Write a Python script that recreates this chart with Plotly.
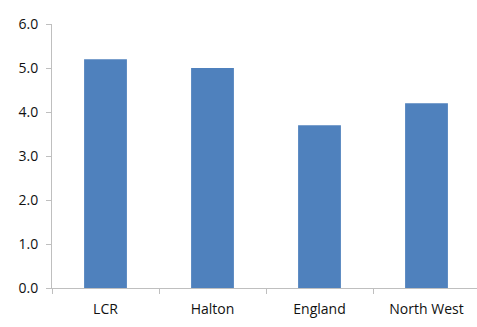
import plotly.graph_objects as go

categories = ["LCR", "Halton", "England", "North West"]
values = [5.2, 5.0, 3.7, 4.2]
y_ticks = [0, 1, 2, 3, 4, 5, 6]
y_tick_labels = ["0.0", "1.0", "2.0", "3.0", "4.0", "5.0", "6.0"]

fig = go.Figure(go.Bar(x=categories, y=values, marker_color="#4F81BD", marker_line_width=0))

fig.update_layout(
    width=477, height=327,
    margin=dict(l=52, r=0, t=24, b=39),
    paper_bgcolor="white", plot_bgcolor="white",
    bargap=0.6,
    showlegend=False,
    font=dict(family="Open Sans", size=14, color="#111"),
)
fig.update_xaxes(
    range=[-0.5, 3.472], showline=True, linecolor="#BFBFBF", linewidth=1,
    ticks="outside", tickson="boundaries", ticklen=5, tickcolor="#BFBFBF",
    showgrid=False, tickfont=dict(size=14), ticklabelstandoff=8,
)
fig.update_yaxes(
    range=[0, 6], tickvals=y_ticks, ticktext=y_tick_labels,
    showline=True, linecolor="#BFBFBF", linewidth=1,
    ticks="outside", ticklen=5, tickcolor="#BFBFBF",
    showgrid=False, zeroline=False, tickfont=dict(size=14), ticklabelstandoff=5,
)

fig.write_html("out.html")
